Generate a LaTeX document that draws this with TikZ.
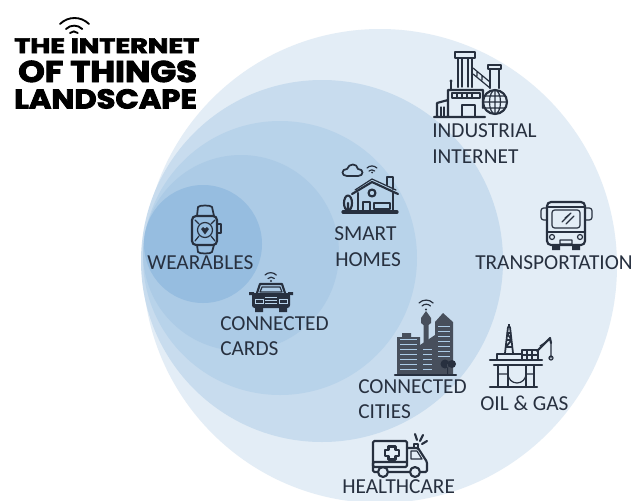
\documentclass[tikz,border=0pt]{standalone}
\usepackage{fontspec}
\setmainfont{Carlito}
\newfontfamily\titlefont[FakeBold=3]{Poppins}
\definecolor{c1}{HTML}{E3EDF6}
\definecolor{c2}{HTML}{C8DCEE}
\definecolor{c3}{HTML}{B8D3EA}
\definecolor{c4}{HTML}{ACCBE6}
\definecolor{c5}{HTML}{96BDE0}
\definecolor{ink}{HTML}{27303F}
\tikzset{
 x=0.75pt,y=-0.75pt,
 lbl/.style={inner sep=0pt,anchor=base west,text=ink,font=\fontsize{16}{18}\selectfont},
 ttl/.style={inner sep=0pt,anchor=base west,font=\titlefont\bfseries},
 ic/.style={draw=ink,line width=0.9pt,line join=round,line cap=round},
 icb/.style={draw=ink,line width=1.6pt,line join=round,line cap=round},
 icf/.style={fill=ink,draw=none}
}
\begin{document}
\begin{tikzpicture}
\useasboundingbox (0,0) rectangle (635,500);
\fill[white] (0,0) rectangle (635,500);
\fill[c1] (380,266) circle (237);
\fill[c2] (322,261) circle (181);
\fill[c3] (280,258) circle (137);
\fill[c4] (241,253) circle (98);
\fill[c5] (203,244) circle (59);
% title
\node[ttl] (t1) at (14,53) {\resizebox{138.75pt}{11pt}{THE INTERNET}};
\node[ttl] (t2) at (18,82) {\resizebox{134pt}{16pt}{OF THINGS}};
\node[ttl] (t3) at (14,108.5) {\resizebox{137pt}{14.5pt}{LANDSCAPE}};
\draw[line width=1.4pt,line cap=round] (60,24) arc (225:315:20.5) (66,29) arc (225:315:11.5) (70,33) arc (225:315:5.5);
% labels
\node[lbl] (l1) at (432,137) {INDUSTRIAL};
\node[lbl] (l2) at (432,163) {INTERNET};
\node[lbl] (l3) at (475,269) {TRANSPORTATION};
\node[lbl] (l4) at (334,240) {SMART};
\node[lbl] (l5) at (335,266) {HOMES};
\node[lbl] (l6) at (147,269) {WEARABLES};
\node[lbl] (l7) at (220,330) {CONNECTED};
\node[lbl] (l8) at (220,355) {CARDS};
\node[lbl] (l9) at (358,393) {CONNECTED};
\node[lbl] (l10) at (358,418) {CITIES};
\node[lbl] (l11) at (480,410) {OIL \& GAS};
\node[lbl] (l12) at (342,493) {HEALTHCARE};
% industrial
\draw[icb] (455,52) rectangle (475,58) (458,58)--(458,87) (472,58)--(472,87);
\draw[ic] (462,58)--(462,87) (468,58)--(468,87);
\draw[icb] (488,65)--(501,65)--(501,69)--(488,69)--cycle (490,69)--(490,88) (499,69)--(499,88);
\draw[ic] (473,68)--(490,82) (473,74)--(490,88) (477,72)--(477,76) (482,76)--(482,80);
\draw[icb] (448,117)--(448,90)--(483,90)--(483,108) (437,117)--(437,103)--(448,100) (434,117)--(485,117);
\draw[ic] (452,93) rectangle (480,98) (457,93)--(457,98) (462,93)--(462,98) (467,93)--(467,98) (472,93)--(472,98);
\draw[ic] (462,117)--(462,105)--(475,105)--(475,117);
\draw[ic] (441,117)--(441,107) (444,117)--(444,107);
\draw[ic] (451,90)--(451,82);
\fill[ink] (451,81) circle (1.6);
\draw[icb] (495,102) circle (12);
\draw[ic] (495,102) ellipse (5.5 and 12) (483,102)--(507,102) (485,96)--(505,96) (485,108)--(505,108) (495,90)--(495,114);
% house
\draw[ic,line width=1.3pt] (347,176) .. controls (341,176) and (341,169) .. (347,169) .. controls (349,163) and (357,163) .. (358,169) .. controls (364,169) and (364,176) .. (358,176) -- cycle;
\draw[ic] (367,168) arc (225:315:7) (369,171) arc (225:315:4);
\fill[ink] (372,172.5) circle (1);
\draw[icb] (352,194)--(372,182)--(398,194);
\draw[ic] (355,190)--(372,179)--(396,190);
\draw[icb] (387,185)--(387,177)--(393,177)--(393,189);
\draw[icb] (358,193)--(358,212) (393,193)--(393,212);
\draw[icb] (372,193) circle (3.5);
\draw[icb] (363,212)--(363,202)--(370,202)--(370,212);
\draw[icb] (374,203) rectangle (390,209);
\draw[icb] (348,203) ellipse (4 and 7.5) (348,203)--(348,212);
\draw[line width=2.4pt,draw=ink,line cap=round] (343,212)--(397,212);
% watch
\draw[ic,line width=1.3pt] (197,216)--(198,207) .. controls (199,205) and (211,205) .. (212,207) -- (214,216);
\draw[ic,line width=1.3pt] (197,245)--(198,252) .. controls (199,254) and (211,254) .. (212,252) -- (214,245);
\draw[icb,rounded corners=3pt] (192,216) rectangle (217,245);
\draw[ic] (217,224) rectangle (221,233);
\draw[ic] (205,230) circle (7.5);
\fill[ink] (205,234.5) -- (201,229) -- (203,227) -- (205,228.5) -- (207,227) -- (209,229) -- cycle;
\draw[ic] (195,220)--(199,224) (215,220)--(211,224) (195,241)--(199,236) (215,241)--(211,236);
% car
\draw[ic] (265,275) arc (225:315:8) (268,278.5) arc (225:315:4.5);
\fill[ink] (271,281) circle (1.2);
\draw[icb] (257,293)--(260,284)--(282,284)--(285,293);
\draw[ic] (262,287)--(280,287)--(282,292)--(260,292)--cycle;
\fill[ink,rounded corners=2pt] (252,293) rectangle (290,308);
\draw[draw=c3,line width=0.7pt] (255,299) rectangle (263,303) (279,299) rectangle (287,303) (265,297)--(277,297) (265,300)--(277,300) (265,303)--(277,303);
\fill[ink] (255,308) rectangle (263,312) (279,308) rectangle (287,312) (249,292) rectangle (254,295) (288,292) rectangle (293,295);
% bus
\draw[icb,rounded corners=3pt] (547,202) rectangle (585,245);
\draw[ic,rounded corners=2pt] (552,210) rectangle (580,228);
\draw[icb] (547,207)--(585,207) (547,232)--(585,232);
\draw[ic,rounded corners=2pt] (547,208)--(541,208)--(541,220)--(547,220) (585,208)--(592,208)--(592,220)--(585,220);
\draw[ic] (562,222)--(570,214) (566,224)--(574,216) (565,218)--(571,213);
\draw[ic] (552,237) circle (2.5) (580,237) circle (2.5) (560,240) rectangle (572,244);
\fill[ink] (552,245) rectangle (560,250) (572,245) rectangle (580,250);
% city
\draw[ic] (419,303) arc (225:315:10) (422,306) arc (225:315:6);
\fill[ink] (426,309.5) circle (1.2);
\fill[ink!85] (397,337) -- (402,337) -- (402,333) -- (411,333) -- (411,337) -- (420,337) -- (420,375) -- (397,375) -- cycle;
\fill[ink!85] (420,345) -- (435,335) -- (435,375) -- (420,375) -- cycle;
\fill[ink!85] (435,322) -- (443,313) -- (453,322) -- (453,375) -- (435,375) -- cycle;
\fill[ink!85] (421,318) -- (426,311) -- (431,318) -- (431,323)--(428.5,325) -- (428.5,345) -- (423.5,345)--(423.5,325) -- (421,323) -- cycle;
\foreach \y in {339,344,...,369} {
 \draw[draw=c4,line width=0.6pt] (400,\y)--(417,\y);
}
\foreach \y in {349,354,...,369} { \draw[draw=c4,line width=0.6pt] (423,\y)--(432,\y); }
\foreach \y in {326,331,...,356} { \draw[draw=c4,line width=0.6pt] (438,\y)--(450,\y); }
\fill[ink] (445,364) circle (4.5) (452,364) circle (4) (447,364) rectangle (448,375);
\draw[line width=1.6pt,draw=ink,line cap=round] (395,375)--(456,375);
% rig
\draw[ic,line width=1.3pt] (505,353)--(508,327)--(510,327)--(513,353) (506,347)--(512,347) (506.5,340)--(511.5,340) (507,333)--(511,333) (506,347)--(511.5,340)--(507,333);
\fill[ink] (508,324) rectangle (510,328);
\draw[icb] (490,360)--(542,360) (494,365)--(542,365);
\draw[icb] (497,354) rectangle (522,360) (522,350) rectangle (538,360);
\draw[ic] (527,350)--(527,360) (532,350)--(532,360) (522,355)--(538,355);
\draw[icb] (537,351)--(550,338)--(551,343);
\draw[ic] (540,346)--(549,340) (551,343)--(551,358);
\draw[ic] (551,358) circle (2);
\draw[icb] (498,365)--(498,387) (508,365)--(508,387) (526,365)--(526,387) (534,365)--(534,387) (490,387)--(537,387);
\draw[ic] (508,374) arc (180:0:9) (498,374)--(508,374) (526,374)--(534,374);
% ambulance
\draw[icb,rounded corners=1pt] (378,467)--(373,467)--(373,441)--(407,441)--(407,467)--(377,467);
\draw[icb,rounded corners=1pt] (407,448)--(418,448)--(427,462)--(427,472)--(421,472) (409,472)--(389,472) (377,472)--(373,472)--(373,462)--(407,462);
\draw[ic] (411,451)--(417,451)--(422,459)--(411,459)--cycle;
\draw[icb] (383,472) circle (5) (415,472) circle (5);
\draw[icb] (388.5,446.5)--(395.5,446.5)--(395.5,450)--(399,450)--(399,456)--(395.5,456)--(395.5,459.5)--(388.5,459.5)--(388.5,456)--(385,456)--(385,450)--(388.5,450)--cycle;
\draw[ic] (414,448)--(414,444)--(418,444)--(418,448);
\draw[icb] (415,434)--(417,440) (423,435)--(420,441) (427,441)--(422,444);
\end{tikzpicture}
\end{document}
